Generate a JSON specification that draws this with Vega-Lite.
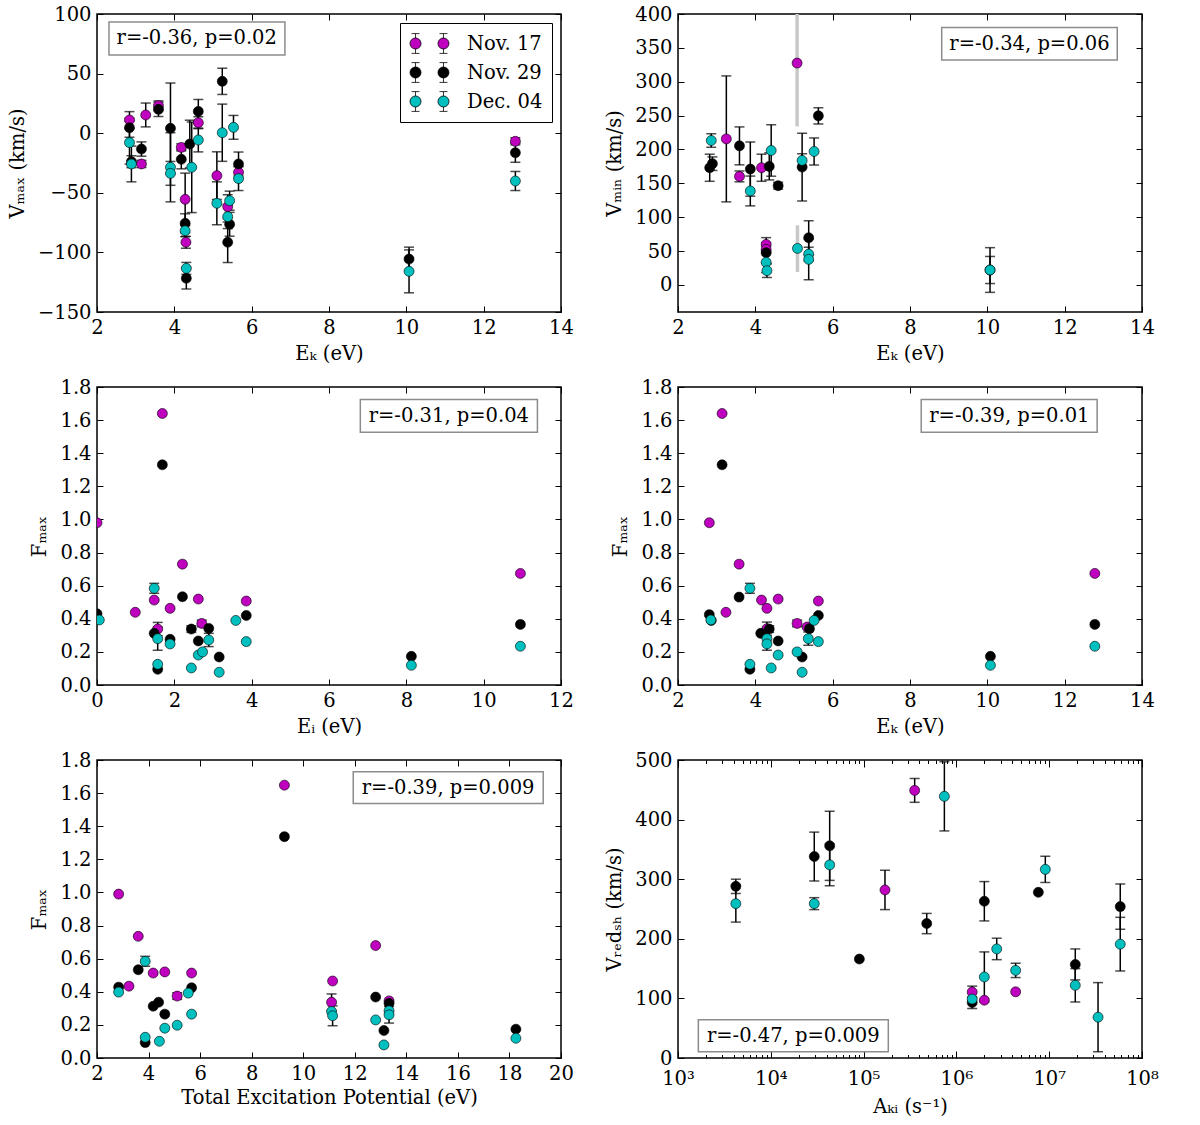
{
  "$schema": "https://vega.github.io/schema/vega-lite/v6.json",
  "background": "white",
  "padding": {"left": 6, "top": 3, "right": 5, "bottom": 5},
  "config": {
    "font": "DejaVu Serif",
    "view": {"stroke": "black", "strokeWidth": 1.5},
    "axis": {
      "grid": false, "domain": false, "tickColor": "black", "tickSize": -6, "tickWidth": 1,
      "labelFont": "DejaVu Serif", "labelFontSize": 19.5, "labelColor": "black", "labelPadding": 12,
      "labelFlush": false, "labelOverlap": false,
      "titleFont": "DejaVu Serif", "titleFontSize": 19.5, "titleFontWeight": "normal", "titleColor": "black", "titlePadding": 8
    },
    "text": {"font": "DejaVu Serif", "fontSize": 19.5}
  },
  "datasets": {
    "p1": [
      {"s": "Nov. 17", "x": 2.84, "y": 11.1, "e": 7},
      {"s": "Nov. 17", "x": 3.15, "y": -25.8, "e": 3},
      {"s": "Nov. 17", "x": 3.26, "y": 15.3, "e": 10},
      {"s": "Nov. 17", "x": 3.59, "y": 23.1, "e": 4},
      {"s": "Nov. 17", "x": 4.18, "y": -11.9, "e": 3},
      {"s": "Nov. 17", "x": 4.28, "y": -55.5, "e": 22},
      {"s": "Nov. 17", "x": 4.30, "y": -91.5, "e": 5},
      {"s": "Nov. 17", "x": 4.62, "y": 8.8, "e": 5},
      {"s": "Nov. 17", "x": 5.10, "y": -35.6, "e": 20},
      {"s": "Nov. 17", "x": 5.38, "y": -61.6, "e": 10},
      {"s": "Nov. 17", "x": 5.66, "y": -32.8, "e": 5},
      {"s": "Nov. 17", "x": 12.82, "y": -6.8, "e": 3},
      {"s": "Nov. 29", "x": 2.84, "y": 4.6, "e": 8},
      {"s": "Nov. 29", "x": 2.89, "y": -23.9, "e": 5},
      {"s": "Nov. 29", "x": 3.15, "y": -13.3, "e": 6},
      {"s": "Nov. 29", "x": 3.59, "y": 20.0, "e": 6},
      {"s": "Nov. 29", "x": 3.90, "y": 4.1, "e": 38},
      {"s": "Nov. 29", "x": 4.18, "y": -21.9, "e": 8},
      {"s": "Nov. 29", "x": 4.40, "y": -9.1, "e": 20},
      {"s": "Nov. 29", "x": 4.28, "y": -75.6, "e": 8},
      {"s": "Nov. 29", "x": 4.31, "y": -121.7, "e": 9},
      {"s": "Nov. 29", "x": 4.62, "y": 18.3, "e": 10},
      {"s": "Nov. 29", "x": 5.24, "y": 43.5, "e": 11},
      {"s": "Nov. 29", "x": 5.43, "y": -76.4, "e": 10},
      {"s": "Nov. 29", "x": 5.38, "y": -91.5, "e": 17},
      {"s": "Nov. 29", "x": 5.66, "y": -25.8, "e": 10},
      {"s": "Nov. 29", "x": 10.07, "y": -105.6, "e": 10},
      {"s": "Nov. 29", "x": 12.82, "y": -16.4, "e": 8},
      {"s": "Dec. 04", "x": 2.84, "y": -7.9, "e": 18},
      {"s": "Dec. 04", "x": 2.89, "y": -25.8, "e": 15},
      {"s": "Dec. 04", "x": 3.90, "y": -28.6, "e": 29},
      {"s": "Dec. 04", "x": 3.90, "y": -33.7, "e": 10},
      {"s": "Dec. 04", "x": 4.45, "y": -28.6, "e": 38},
      {"s": "Dec. 04", "x": 4.28, "y": -81.8, "e": 5},
      {"s": "Dec. 04", "x": 4.31, "y": -113.4, "e": 5},
      {"s": "Dec. 04", "x": 4.62, "y": -5.7, "e": 10},
      {"s": "Dec. 04", "x": 5.10, "y": -58.8, "e": 18},
      {"s": "Dec. 04", "x": 5.24, "y": 0.4, "e": 24},
      {"s": "Dec. 04", "x": 5.53, "y": 4.9, "e": 10},
      {"s": "Dec. 04", "x": 5.38, "y": -70.0, "e": 10},
      {"s": "Dec. 04", "x": 5.43, "y": -56.6, "e": 8},
      {"s": "Dec. 04", "x": 5.66, "y": -38.1, "e": 10},
      {"s": "Dec. 04", "x": 10.07, "y": -115.9, "e": 18},
      {"s": "Dec. 04", "x": 12.82, "y": -40.1, "e": 8}
    ],
    "p2": [
      {"s": "Nov. 17", "x": 3.25, "y": 215.6, "e": 93},
      {"s": "Nov. 17", "x": 3.59, "y": 160.2, "e": 8},
      {"s": "Nov. 17", "x": 4.16, "y": 173, "e": 20},
      {"s": "Nov. 17", "x": 4.28, "y": 59.8, "e": 10},
      {"s": "Nov. 17", "x": 4.28, "y": 52.4, "e": 5},
      {"s": "Nov. 17", "x": 5.08, "y": 327.5, "glo": 234, "ghi": 421},
      {"s": "Nov. 29", "x": 2.82, "y": 173, "e": 20},
      {"s": "Nov. 29", "x": 2.89, "y": 179, "e": 10},
      {"s": "Nov. 29", "x": 3.59, "y": 205.3, "e": 28},
      {"s": "Nov. 29", "x": 3.87, "y": 171, "e": 40},
      {"s": "Nov. 29", "x": 4.36, "y": 175, "e": 20},
      {"s": "Nov. 29", "x": 4.59, "y": 146.5, "e": 5},
      {"s": "Nov. 29", "x": 4.28, "y": 47.5, "e": 15},
      {"s": "Nov. 29", "x": 5.21, "y": 174, "e": 50},
      {"s": "Nov. 29", "x": 5.38, "y": 69.6, "e": 25},
      {"s": "Nov. 29", "x": 5.63, "y": 249.6, "e": 12},
      {"s": "Nov. 29", "x": 10.07, "y": 22, "e": 20},
      {"s": "Dec. 04", "x": 2.86, "y": 213.2, "e": 10},
      {"s": "Dec. 04", "x": 3.87, "y": 138.7, "e": 22},
      {"s": "Dec. 04", "x": 4.41, "y": 198.5, "e": 38},
      {"s": "Dec. 04", "x": 4.28, "y": 33.3, "e": 15},
      {"s": "Dec. 04", "x": 4.30, "y": 21, "e": 10},
      {"s": "Dec. 04", "x": 5.09, "y": 53.9, "glo": 19, "ghi": 88},
      {"s": "Dec. 04", "x": 5.21, "y": 183.8, "e": 10},
      {"s": "Dec. 04", "x": 5.52, "y": 197, "e": 20},
      {"s": "Dec. 04", "x": 5.38, "y": 45.5, "e": 10},
      {"s": "Dec. 04", "x": 5.38, "y": 37.7, "e": 30},
      {"s": "Dec. 04", "x": 10.07, "y": 22, "e": 33}
    ],
    "p3": [
      {"s": "Nov. 17", "x": 1.69, "y": 1.64},
      {"s": "Nov. 17", "x": 0.0, "y": 0.98},
      {"s": "Nov. 17", "x": 2.21, "y": 0.73},
      {"s": "Nov. 17", "x": 10.95, "y": 0.674},
      {"s": "Nov. 17", "x": 1.48, "y": 0.513},
      {"s": "Nov. 17", "x": 2.62, "y": 0.519},
      {"s": "Nov. 17", "x": 3.86, "y": 0.507},
      {"s": "Nov. 17", "x": 0.99, "y": 0.439},
      {"s": "Nov. 17", "x": 1.89, "y": 0.463},
      {"s": "Nov. 17", "x": 1.57, "y": 0.338, "e": 0.04},
      {"s": "Nov. 17", "x": 2.71, "y": 0.372, "e": 0.02},
      {"s": "Nov. 29", "x": 1.69, "y": 1.33},
      {"s": "Nov. 29", "x": 2.21, "y": 0.533},
      {"s": "Nov. 29", "x": 0.0, "y": 0.43},
      {"s": "Nov. 29", "x": 3.86, "y": 0.42},
      {"s": "Nov. 29", "x": 10.95, "y": 0.366},
      {"s": "Nov. 29", "x": 8.13, "y": 0.173},
      {"s": "Nov. 29", "x": 1.48, "y": 0.312},
      {"s": "Nov. 29", "x": 1.89, "y": 0.276},
      {"s": "Nov. 29", "x": 1.57, "y": 0.095},
      {"s": "Nov. 29", "x": 2.44, "y": 0.338, "e": 0.02},
      {"s": "Nov. 29", "x": 2.89, "y": 0.342},
      {"s": "Nov. 29", "x": 2.62, "y": 0.266},
      {"s": "Nov. 29", "x": 3.16, "y": 0.169},
      {"s": "Dec. 04", "x": 1.48, "y": 0.584, "e": 0.03},
      {"s": "Dec. 04", "x": 0.06, "y": 0.393},
      {"s": "Dec. 04", "x": 3.59, "y": 0.39},
      {"s": "Dec. 04", "x": 10.95, "y": 0.234},
      {"s": "Dec. 04", "x": 8.13, "y": 0.119},
      {"s": "Dec. 04", "x": 1.57, "y": 0.28, "e": 0.07},
      {"s": "Dec. 04", "x": 1.89, "y": 0.248},
      {"s": "Dec. 04", "x": 1.57, "y": 0.125},
      {"s": "Dec. 04", "x": 2.44, "y": 0.103},
      {"s": "Dec. 04", "x": 2.89, "y": 0.272, "e": 0.04},
      {"s": "Dec. 04", "x": 2.62, "y": 0.181},
      {"s": "Dec. 04", "x": 2.73, "y": 0.2},
      {"s": "Dec. 04", "x": 3.16, "y": 0.077},
      {"s": "Dec. 04", "x": 3.86, "y": 0.262}
    ],
    "p4": [
      {"s": "Nov. 17", "x": 3.14, "y": 1.64},
      {"s": "Nov. 17", "x": 2.81, "y": 0.98},
      {"s": "Nov. 17", "x": 3.58, "y": 0.73},
      {"s": "Nov. 17", "x": 12.78, "y": 0.674},
      {"s": "Nov. 17", "x": 4.16, "y": 0.513},
      {"s": "Nov. 17", "x": 4.59, "y": 0.519},
      {"s": "Nov. 17", "x": 5.63, "y": 0.507},
      {"s": "Nov. 17", "x": 3.24, "y": 0.439},
      {"s": "Nov. 17", "x": 4.30, "y": 0.463},
      {"s": "Nov. 17", "x": 5.08, "y": 0.372, "e": 0.02},
      {"s": "Nov. 17", "x": 5.34, "y": 0.35},
      {"s": "Nov. 17", "x": 4.30, "y": 0.34, "e": 0.04},
      {"s": "Nov. 29", "x": 3.14, "y": 1.33},
      {"s": "Nov. 29", "x": 12.78, "y": 0.366},
      {"s": "Nov. 29", "x": 10.08, "y": 0.173},
      {"s": "Nov. 29", "x": 3.58, "y": 0.531},
      {"s": "Nov. 29", "x": 2.81, "y": 0.425},
      {"s": "Nov. 29", "x": 2.86, "y": 0.39},
      {"s": "Nov. 29", "x": 5.63, "y": 0.42},
      {"s": "Nov. 29", "x": 5.40, "y": 0.34},
      {"s": "Nov. 29", "x": 4.14, "y": 0.312},
      {"s": "Nov. 29", "x": 4.36, "y": 0.338, "e": 0.02},
      {"s": "Nov. 29", "x": 4.59, "y": 0.266},
      {"s": "Nov. 29", "x": 5.21, "y": 0.169},
      {"s": "Nov. 29", "x": 3.86, "y": 0.095},
      {"s": "Dec. 04", "x": 12.78, "y": 0.234},
      {"s": "Dec. 04", "x": 10.08, "y": 0.119},
      {"s": "Dec. 04", "x": 3.86, "y": 0.584, "e": 0.03},
      {"s": "Dec. 04", "x": 2.85, "y": 0.393},
      {"s": "Dec. 04", "x": 5.52, "y": 0.39},
      {"s": "Dec. 04", "x": 4.30, "y": 0.28, "e": 0.07},
      {"s": "Dec. 04", "x": 4.30, "y": 0.248},
      {"s": "Dec. 04", "x": 5.37, "y": 0.28, "e": 0.04},
      {"s": "Dec. 04", "x": 5.63, "y": 0.262},
      {"s": "Dec. 04", "x": 4.59, "y": 0.181},
      {"s": "Dec. 04", "x": 5.08, "y": 0.2},
      {"s": "Dec. 04", "x": 5.21, "y": 0.077},
      {"s": "Dec. 04", "x": 3.86, "y": 0.125},
      {"s": "Dec. 04", "x": 4.41, "y": 0.103}
    ],
    "p5": [
      {"s": "Nov. 17", "x": 9.27, "y": 1.648},
      {"s": "Nov. 17", "x": 2.84, "y": 0.99},
      {"s": "Nov. 17", "x": 3.60, "y": 0.735},
      {"s": "Nov. 17", "x": 12.81, "y": 0.679},
      {"s": "Nov. 17", "x": 4.18, "y": 0.513},
      {"s": "Nov. 17", "x": 4.63, "y": 0.52},
      {"s": "Nov. 17", "x": 5.67, "y": 0.513},
      {"s": "Nov. 17", "x": 11.14, "y": 0.465},
      {"s": "Nov. 17", "x": 3.24, "y": 0.434},
      {"s": "Nov. 17", "x": 5.11, "y": 0.374, "e": 0.02},
      {"s": "Nov. 17", "x": 11.10, "y": 0.337, "e": 0.05},
      {"s": "Nov. 17", "x": 13.33, "y": 0.345},
      {"s": "Nov. 29", "x": 9.27, "y": 1.337},
      {"s": "Nov. 29", "x": 3.60, "y": 0.533},
      {"s": "Nov. 29", "x": 2.84, "y": 0.428},
      {"s": "Nov. 29", "x": 5.67, "y": 0.424},
      {"s": "Nov. 29", "x": 12.81, "y": 0.368},
      {"s": "Nov. 29", "x": 13.33, "y": 0.33},
      {"s": "Nov. 29", "x": 4.39, "y": 0.337},
      {"s": "Nov. 29", "x": 4.18, "y": 0.313},
      {"s": "Nov. 29", "x": 4.63, "y": 0.265},
      {"s": "Nov. 29", "x": 13.13, "y": 0.166},
      {"s": "Nov. 29", "x": 3.87, "y": 0.093},
      {"s": "Nov. 29", "x": 18.25, "y": 0.174},
      {"s": "Dec. 04", "x": 3.87, "y": 0.584, "e": 0.03},
      {"s": "Dec. 04", "x": 2.84, "y": 0.398},
      {"s": "Dec. 04", "x": 5.54, "y": 0.392},
      {"s": "Dec. 04", "x": 5.67, "y": 0.265},
      {"s": "Dec. 04", "x": 11.10, "y": 0.281},
      {"s": "Dec. 04", "x": 11.14, "y": 0.255, "e": 0.06},
      {"s": "Dec. 04", "x": 12.81, "y": 0.23},
      {"s": "Dec. 04", "x": 13.33, "y": 0.285},
      {"s": "Dec. 04", "x": 13.33, "y": 0.261, "e": 0.05},
      {"s": "Dec. 04", "x": 13.13, "y": 0.079},
      {"s": "Dec. 04", "x": 4.63, "y": 0.18},
      {"s": "Dec. 04", "x": 5.11, "y": 0.198},
      {"s": "Dec. 04", "x": 3.87, "y": 0.125},
      {"s": "Dec. 04", "x": 4.42, "y": 0.101},
      {"s": "Dec. 04", "x": 18.25, "y": 0.119}
    ],
    "p6": [
      {"s": "Nov. 17", "x": 170000, "y": 282, "e": 33},
      {"s": "Nov. 17", "x": 355000, "y": 449, "e": 20},
      {"s": "Nov. 17", "x": 1480000, "y": 110.6, "e": 10},
      {"s": "Nov. 17", "x": 2000000, "y": 97},
      {"s": "Nov. 17", "x": 4350000, "y": 111},
      {"s": "Nov. 29", "x": 4200, "y": 288, "e": 12},
      {"s": "Nov. 29", "x": 29400, "y": 338, "e": 41},
      {"s": "Nov. 29", "x": 43100, "y": 356, "e": 58},
      {"s": "Nov. 29", "x": 90000, "y": 166},
      {"s": "Nov. 29", "x": 479000, "y": 225.6, "e": 17},
      {"s": "Nov. 29", "x": 1480000, "y": 93, "e": 10},
      {"s": "Nov. 29", "x": 2000000, "y": 263, "e": 33},
      {"s": "Nov. 29", "x": 7640000, "y": 278},
      {"s": "Nov. 29", "x": 19100000, "y": 157, "e": 26},
      {"s": "Nov. 29", "x": 58300000, "y": 254, "e": 38},
      {"s": "Dec. 04", "x": 4200, "y": 259, "e": 31},
      {"s": "Dec. 04", "x": 29400, "y": 259, "e": 10},
      {"s": "Dec. 04", "x": 43100, "y": 324, "e": 35},
      {"s": "Dec. 04", "x": 742000, "y": 439, "e": 58},
      {"s": "Dec. 04", "x": 1480000, "y": 98.8},
      {"s": "Dec. 04", "x": 2000000, "y": 136, "e": 42},
      {"s": "Dec. 04", "x": 2720000, "y": 183, "e": 18},
      {"s": "Dec. 04", "x": 4350000, "y": 147, "e": 12},
      {"s": "Dec. 04", "x": 9080000, "y": 316.5, "e": 22},
      {"s": "Dec. 04", "x": 19100000, "y": 122, "e": 28},
      {"s": "Dec. 04", "x": 33600000, "y": 68.5, "e": 58},
      {"s": "Dec. 04", "x": 58300000, "y": 191, "e": 45}
    ]
  },
  "columns": 2,
  "bounds": "flush",
  "spacing": {"row": 75, "column": 117},
  "resolve": {"scale": {"color": "independent"}, "legend": {"color": "independent"}},
  "concat": [
    {
      "width": 464, "height": 298,
      "resolve": {"axis": {"x": "independent", "y": "independent"}},
      "layer": [
        {
          "data": {"values": [{"x": 2.31, "x2": 6.86, "y": 93.3, "y2": 65.6}]},
          "mark": {"type": "rect", "fill": "white", "stroke": "#8c8c8c", "strokeWidth": 1.5},
          "encoding": {
            "x": {"field": "x", "type": "quantitative", "scale": {"domain": [2, 14], "nice": false, "zero": false}, "axis": {"orient": "top", "values": [2, 4, 6, 8, 10, 12, 14], "labels": false, "title": null}},
            "x2": {"field": "x2"},
            "y": {"field": "y", "type": "quantitative", "scale": {"domain": [-150, 100], "nice": false, "zero": false}, "axis": {"orient": "right", "values": [-150, -100, -50, 0, 50, 100], "labels": false, "title": null}},
            "y2": {"field": "y2"}
          }
        },
        {
          "data": {"values": [{"x": 4.58, "y": 79.5, "t": "r=-0.36, p=0.02"}]},
          "mark": {"type": "text", "align": "center", "baseline": "middle", "color": "black"},
          "encoding": {
            "x": {"field": "x", "type": "quantitative", "scale": {"domain": [2, 14], "nice": false, "zero": false}, "axis": null},
            "y": {"field": "y", "type": "quantitative", "scale": {"domain": [-150, 100], "nice": false, "zero": false}, "axis": null},
            "text": {"field": "t"}
          }
        },
        {
          "data": {"name": "p1"},
          "transform": [{"filter": "isValid(datum.e)"}],
          "mark": {"type": "errorbar", "ticks": true, "size": 10, "thickness": 1.5, "color": "black"},
          "encoding": {
            "x": {"field": "x", "type": "quantitative", "scale": {"domain": [2, 14], "nice": false, "zero": false}, "axis": null},
            "y": {"field": "y", "type": "quantitative", "scale": {"domain": [-150, 100], "nice": false, "zero": false}, "axis": null},
            "yError": {"field": "e"}
          }
        },
        {
          "data": {"name": "p1"},
          "mark": {"type": "circle", "size": 100, "stroke": "black", "strokeWidth": 0.6, "opacity": 1, "clip": true},
          "encoding": {
            "x": {"field": "x", "type": "quantitative", "scale": {"domain": [2, 14], "nice": false, "zero": false}, "axis": {"orient": "bottom", "values": [2, 4, 6, 8, 10, 12, 14], "title": "Eₖ (eV)"}},
            "y": {"field": "y", "type": "quantitative", "scale": {"domain": [-150, 100], "nice": false, "zero": false}, "axis": {"orient": "left", "values": [-150, -100, -50, 0, 50, 100], "title": "Vₘₐₓ (km/s)", "titlePadding": 10}},
            "color": {
              "field": "s", "type": "nominal", "sort": null,
              "scale": {"domain": ["Nov. 17", "Nov. 29", "Dec. 04"], "range": ["#bf00bf", "#000000", "#00bfbf"]},
              "legend": {
                "orient": "top-right", "title": null, "offset": 9, "padding": 9,
                "strokeColor": "black", "fillColor": "white",
                "labelFont": "DejaVu Serif", "labelFontSize": 19.5, "labelColor": "black",
                "symbolType": "M -1.77 0 A 0.5 0.5 0 1 0 -0.77 0 A 0.5 0.5 0 1 0 -1.77 0 Z M 0.77 0 A 0.5 0.5 0 1 0 1.77 0 A 0.5 0.5 0 1 0 0.77 0 Z M -1.27 -0.9 L -1.27 -0.5 M -1.27 0.5 L -1.27 0.9 M -1.63 -0.9 L -0.91 -0.9 M -1.63 0.9 L -0.91 0.9 M 1.27 -0.9 L 1.27 -0.5 M 1.27 0.5 L 1.27 0.9 M 0.91 -0.9 L 1.63 -0.9 M 0.91 0.9 L 1.63 0.9",
                "symbolSize": 484, "symbolStrokeColor": "black", "symbolStrokeWidth": 0.8, "symbolOpacity": 1,
                "symbolOffset": 9, "labelOffset": 26, "rowPadding": 6
              }
            }
          }
        }
      ]
    },
    {
      "width": 464, "height": 298,
      "resolve": {"axis": {"x": "independent", "y": "independent"}},
      "layer": [
        {
          "data": {"values": [{"x": 8.82, "x2": 13.36, "y": 379.9, "y2": 331.9}]},
          "mark": {"type": "rect", "fill": "white", "stroke": "#8c8c8c", "strokeWidth": 1.5},
          "encoding": {
            "x": {"field": "x", "type": "quantitative", "scale": {"domain": [2, 14], "nice": false, "zero": false}, "axis": {"orient": "top", "values": [2, 4, 6, 8, 10, 12, 14], "labels": false, "title": null}},
            "x2": {"field": "x2"},
            "y": {"field": "y", "type": "quantitative", "scale": {"domain": [-40, 400], "nice": false, "zero": false}, "axis": {"orient": "right", "values": [0, 50, 100, 150, 200, 250, 300, 350, 400], "labels": false, "title": null}},
            "y2": {"field": "y2"}
          }
        },
        {
          "data": {"values": [{"x": 11.09, "y": 356, "t": "r=-0.34, p=0.06"}]},
          "mark": {"type": "text", "align": "center", "baseline": "middle", "color": "black"},
          "encoding": {
            "x": {"field": "x", "type": "quantitative", "scale": {"domain": [2, 14], "nice": false, "zero": false}, "axis": null},
            "y": {"field": "y", "type": "quantitative", "scale": {"domain": [-40, 400], "nice": false, "zero": false}, "axis": null},
            "text": {"field": "t"}
          }
        },
        {
          "data": {"name": "p2"},
          "transform": [{"filter": "isValid(datum.glo)"}],
          "mark": {"type": "rule", "color": "#c8c8c8", "strokeWidth": 3.5, "clip": true},
          "encoding": {
            "x": {"field": "x", "type": "quantitative", "scale": {"domain": [2, 14], "nice": false, "zero": false}, "axis": null},
            "y": {"field": "glo", "type": "quantitative", "scale": {"domain": [-40, 400], "nice": false, "zero": false}, "axis": null},
            "y2": {"field": "ghi"}
          }
        },
        {
          "data": {"name": "p2"},
          "transform": [{"filter": "isValid(datum.e)"}],
          "mark": {"type": "errorbar", "ticks": true, "size": 10, "thickness": 1.5, "color": "black"},
          "encoding": {
            "x": {"field": "x", "type": "quantitative", "scale": {"domain": [2, 14], "nice": false, "zero": false}, "axis": null},
            "y": {"field": "y", "type": "quantitative", "scale": {"domain": [-40, 400], "nice": false, "zero": false}, "axis": null},
            "yError": {"field": "e"}
          }
        },
        {
          "data": {"name": "p2"},
          "mark": {"type": "circle", "size": 100, "stroke": "black", "strokeWidth": 0.6, "opacity": 1, "clip": true},
          "encoding": {
            "x": {"field": "x", "type": "quantitative", "scale": {"domain": [2, 14], "nice": false, "zero": false}, "axis": {"orient": "bottom", "values": [2, 4, 6, 8, 10, 12, 14], "title": "Eₖ (eV)"}},
            "y": {"field": "y", "type": "quantitative", "scale": {"domain": [-40, 400], "nice": false, "zero": false}, "axis": {"orient": "left", "values": [0, 50, 100, 150, 200, 250, 300, 350, 400], "title": "Vₘᵢₙ (km/s)", "titlePadding": 10}},
            "color": {"field": "s", "type": "nominal", "sort": null, "scale": {"domain": ["Nov. 17", "Nov. 29", "Dec. 04"], "range": ["#bf00bf", "#000000", "#00bfbf"]}, "legend": null}
          }
        }
      ]
    },
    {
      "width": 464, "height": 298,
      "resolve": {"axis": {"x": "independent", "y": "independent"}},
      "layer": [
        {
          "data": {"values": [{"x": 6.81, "x2": 11.39, "y": 1.725, "y2": 1.526}]},
          "mark": {"type": "rect", "fill": "white", "stroke": "#8c8c8c", "strokeWidth": 1.5},
          "encoding": {
            "x": {"field": "x", "type": "quantitative", "scale": {"domain": [0, 12], "nice": false, "zero": false}, "axis": {"orient": "top", "values": [0, 2, 4, 6, 8, 10, 12], "labels": false, "title": null}},
            "x2": {"field": "x2"},
            "y": {"field": "y", "type": "quantitative", "scale": {"domain": [0, 1.8], "nice": false, "zero": false}, "axis": {"orient": "right", "values": [0, 0.2, 0.4, 0.6, 0.8, 1.0, 1.2, 1.4, 1.6, 1.8], "labels": false, "title": null}},
            "y2": {"field": "y2"}
          }
        },
        {
          "data": {"values": [{"x": 9.1, "y": 1.626, "t": "r=-0.31, p=0.04"}]},
          "mark": {"type": "text", "align": "center", "baseline": "middle", "color": "black"},
          "encoding": {
            "x": {"field": "x", "type": "quantitative", "scale": {"domain": [0, 12], "nice": false, "zero": false}, "axis": null},
            "y": {"field": "y", "type": "quantitative", "scale": {"domain": [0, 1.8], "nice": false, "zero": false}, "axis": null},
            "text": {"field": "t"}
          }
        },
        {
          "data": {"name": "p3"},
          "transform": [{"filter": "isValid(datum.e)"}],
          "mark": {"type": "errorbar", "ticks": true, "size": 10, "thickness": 1.5, "color": "black"},
          "encoding": {
            "x": {"field": "x", "type": "quantitative", "scale": {"domain": [0, 12], "nice": false, "zero": false}, "axis": null},
            "y": {"field": "y", "type": "quantitative", "scale": {"domain": [0, 1.8], "nice": false, "zero": false}, "axis": null},
            "yError": {"field": "e"}
          }
        },
        {
          "data": {"name": "p3"},
          "mark": {"type": "circle", "size": 100, "stroke": "black", "strokeWidth": 0.6, "opacity": 1, "clip": true},
          "encoding": {
            "x": {"field": "x", "type": "quantitative", "scale": {"domain": [0, 12], "nice": false, "zero": false}, "axis": {"orient": "bottom", "values": [0, 2, 4, 6, 8, 10, 12], "title": "Eᵢ (eV)"}},
            "y": {"field": "y", "type": "quantitative", "scale": {"domain": [0, 1.8], "nice": false, "zero": false}, "axis": {"orient": "left", "values": [0, 0.2, 0.4, 0.6, 0.8, 1.0, 1.2, 1.4, 1.6, 1.8], "format": ".1f", "title": "Fₘₐₓ", "titlePadding": 10}},
            "color": {"field": "s", "type": "nominal", "sort": null, "scale": {"domain": ["Nov. 17", "Nov. 29", "Dec. 04"], "range": ["#bf00bf", "#000000", "#00bfbf"]}, "legend": null}
          }
        }
      ]
    },
    {
      "width": 464, "height": 298,
      "resolve": {"axis": {"x": "independent", "y": "independent"}},
      "layer": [
        {
          "data": {"values": [{"x": 8.29, "x2": 12.84, "y": 1.725, "y2": 1.526}]},
          "mark": {"type": "rect", "fill": "white", "stroke": "#8c8c8c", "strokeWidth": 1.5},
          "encoding": {
            "x": {"field": "x", "type": "quantitative", "scale": {"domain": [2, 14], "nice": false, "zero": false}, "axis": {"orient": "top", "values": [2, 4, 6, 8, 10, 12, 14], "labels": false, "title": null}},
            "x2": {"field": "x2"},
            "y": {"field": "y", "type": "quantitative", "scale": {"domain": [0, 1.8], "nice": false, "zero": false}, "axis": {"orient": "right", "values": [0, 0.2, 0.4, 0.6, 0.8, 1.0, 1.2, 1.4, 1.6, 1.8], "labels": false, "title": null}},
            "y2": {"field": "y2"}
          }
        },
        {
          "data": {"values": [{"x": 10.57, "y": 1.626, "t": "r=-0.39, p=0.01"}]},
          "mark": {"type": "text", "align": "center", "baseline": "middle", "color": "black"},
          "encoding": {
            "x": {"field": "x", "type": "quantitative", "scale": {"domain": [2, 14], "nice": false, "zero": false}, "axis": null},
            "y": {"field": "y", "type": "quantitative", "scale": {"domain": [0, 1.8], "nice": false, "zero": false}, "axis": null},
            "text": {"field": "t"}
          }
        },
        {
          "data": {"name": "p4"},
          "transform": [{"filter": "isValid(datum.e)"}],
          "mark": {"type": "errorbar", "ticks": true, "size": 10, "thickness": 1.5, "color": "black"},
          "encoding": {
            "x": {"field": "x", "type": "quantitative", "scale": {"domain": [2, 14], "nice": false, "zero": false}, "axis": null},
            "y": {"field": "y", "type": "quantitative", "scale": {"domain": [0, 1.8], "nice": false, "zero": false}, "axis": null},
            "yError": {"field": "e"}
          }
        },
        {
          "data": {"name": "p4"},
          "mark": {"type": "circle", "size": 100, "stroke": "black", "strokeWidth": 0.6, "opacity": 1, "clip": true},
          "encoding": {
            "x": {"field": "x", "type": "quantitative", "scale": {"domain": [2, 14], "nice": false, "zero": false}, "axis": {"orient": "bottom", "values": [2, 4, 6, 8, 10, 12, 14], "title": "Eₖ (eV)"}},
            "y": {"field": "y", "type": "quantitative", "scale": {"domain": [0, 1.8], "nice": false, "zero": false}, "axis": {"orient": "left", "values": [0, 0.2, 0.4, 0.6, 0.8, 1.0, 1.2, 1.4, 1.6, 1.8], "format": ".1f", "title": "Fₘₐₓ", "titlePadding": 10}},
            "color": {"field": "s", "type": "nominal", "sort": null, "scale": {"domain": ["Nov. 17", "Nov. 29", "Dec. 04"], "range": ["#bf00bf", "#000000", "#00bfbf"]}, "legend": null}
          }
        }
      ]
    },
    {
      "width": 464, "height": 298,
      "resolve": {"axis": {"x": "independent", "y": "independent"}},
      "layer": [
        {
          "data": {"values": [{"x": 11.94, "x2": 19.31, "y": 1.729, "y2": 1.538}]},
          "mark": {"type": "rect", "fill": "white", "stroke": "#8c8c8c", "strokeWidth": 1.5},
          "encoding": {
            "x": {"field": "x", "type": "quantitative", "scale": {"domain": [2, 20], "nice": false, "zero": false}, "axis": {"orient": "top", "values": [2, 4, 6, 8, 10, 12, 14, 16, 18, 20], "labels": false, "title": null}},
            "x2": {"field": "x2"},
            "y": {"field": "y", "type": "quantitative", "scale": {"domain": [0, 1.8], "nice": false, "zero": false}, "axis": {"orient": "right", "values": [0, 0.2, 0.4, 0.6, 0.8, 1.0, 1.2, 1.4, 1.6, 1.8], "labels": false, "title": null}},
            "y2": {"field": "y2"}
          }
        },
        {
          "data": {"values": [{"x": 15.62, "y": 1.633, "t": "r=-0.39, p=0.009"}]},
          "mark": {"type": "text", "align": "center", "baseline": "middle", "color": "black"},
          "encoding": {
            "x": {"field": "x", "type": "quantitative", "scale": {"domain": [2, 20], "nice": false, "zero": false}, "axis": null},
            "y": {"field": "y", "type": "quantitative", "scale": {"domain": [0, 1.8], "nice": false, "zero": false}, "axis": null},
            "text": {"field": "t"}
          }
        },
        {
          "data": {"name": "p5"},
          "transform": [{"filter": "isValid(datum.e)"}],
          "mark": {"type": "errorbar", "ticks": true, "size": 10, "thickness": 1.5, "color": "black"},
          "encoding": {
            "x": {"field": "x", "type": "quantitative", "scale": {"domain": [2, 20], "nice": false, "zero": false}, "axis": null},
            "y": {"field": "y", "type": "quantitative", "scale": {"domain": [0, 1.8], "nice": false, "zero": false}, "axis": null},
            "yError": {"field": "e"}
          }
        },
        {
          "data": {"name": "p5"},
          "mark": {"type": "circle", "size": 100, "stroke": "black", "strokeWidth": 0.6, "opacity": 1, "clip": true},
          "encoding": {
            "x": {"field": "x", "type": "quantitative", "scale": {"domain": [2, 20], "nice": false, "zero": false}, "axis": {"orient": "bottom", "values": [2, 4, 6, 8, 10, 12, 14, 16, 18, 20], "title": "Total Excitation Potential (eV)", "titlePadding": 6}},
            "y": {"field": "y", "type": "quantitative", "scale": {"domain": [0, 1.8], "nice": false, "zero": false}, "axis": {"orient": "left", "values": [0, 0.2, 0.4, 0.6, 0.8, 1.0, 1.2, 1.4, 1.6, 1.8], "format": ".1f", "title": "Fₘₐₓ", "titlePadding": 10}},
            "color": {"field": "s", "type": "nominal", "sort": null, "scale": {"domain": ["Nov. 17", "Nov. 29", "Dec. 04"], "range": ["#bf00bf", "#000000", "#00bfbf"]}, "legend": null}
          }
        }
      ]
    },
    {
      "width": 464, "height": 298,
      "resolve": {"axis": {"x": "independent", "y": "independent"}},
      "layer": [
        {
          "data": {"values": [{"x": 1656, "x2": 184600, "y": 64, "y2": 10.6}]},
          "mark": {"type": "rect", "fill": "white", "stroke": "#8c8c8c", "strokeWidth": 1.5},
          "encoding": {
            "x": {"field": "x", "type": "quantitative", "scale": {"type": "log", "domain": [1000, 100000000], "nice": false}, "axis": {"orient": "top", "values": [1000, 2000, 3000, 4000, 5000, 6000, 7000, 8000, 9000, 10000, 20000, 30000, 40000, 50000, 60000, 70000, 80000, 90000, 100000, 200000, 300000, 400000, 500000, 600000, 700000, 800000, 900000, 1000000, 2000000, 3000000, 4000000, 5000000, 6000000, 7000000, 8000000, 9000000, 10000000, 20000000, 30000000, 40000000, 50000000, 60000000, 70000000, 80000000, 90000000, 100000000], "labels": false, "title": null, "tickSize": {"condition": {"test": "indexof([1000,10000,100000,1000000,10000000,100000000], datum.value) >= 0", "value": -7}, "value": -3.5}}},
            "x2": {"field": "x2"},
            "y": {"field": "y", "type": "quantitative", "scale": {"domain": [0, 500], "nice": false, "zero": false}, "axis": {"orient": "right", "values": [0, 100, 200, 300, 400, 500], "labels": false, "title": null}},
            "y2": {"field": "y2"}
          }
        },
        {
          "data": {"values": [{"x": 17480, "y": 37, "t": "r=-0.47, p=0.009"}]},
          "mark": {"type": "text", "align": "center", "baseline": "middle", "color": "black"},
          "encoding": {
            "x": {"field": "x", "type": "quantitative", "scale": {"type": "log", "domain": [1000, 100000000], "nice": false}, "axis": null},
            "y": {"field": "y", "type": "quantitative", "scale": {"domain": [0, 500], "nice": false, "zero": false}, "axis": null},
            "text": {"field": "t"}
          }
        },
        {
          "data": {"name": "p6"},
          "transform": [{"filter": "isValid(datum.e)"}],
          "mark": {"type": "errorbar", "ticks": true, "size": 10, "thickness": 1.5, "color": "black"},
          "encoding": {
            "x": {"field": "x", "type": "quantitative", "scale": {"type": "log", "domain": [1000, 100000000], "nice": false}, "axis": null},
            "y": {"field": "y", "type": "quantitative", "scale": {"domain": [0, 500], "nice": false, "zero": false}, "axis": null},
            "yError": {"field": "e"}
          }
        },
        {
          "data": {"name": "p6"},
          "mark": {"type": "circle", "size": 100, "stroke": "black", "strokeWidth": 0.6, "opacity": 1, "clip": true},
          "encoding": {
            "x": {"field": "x", "type": "quantitative", "scale": {"type": "log", "domain": [1000, 100000000], "nice": false}, "axis": {"orient": "bottom", "values": [1000, 2000, 3000, 4000, 5000, 6000, 7000, 8000, 9000, 10000, 20000, 30000, 40000, 50000, 60000, 70000, 80000, 90000, 100000, 200000, 300000, 400000, 500000, 600000, 700000, 800000, 900000, 1000000, 2000000, 3000000, 4000000, 5000000, 6000000, 7000000, 8000000, 9000000, 10000000, 20000000, 30000000, 40000000, 50000000, 60000000, 70000000, 80000000, 90000000, 100000000], "labelExpr": "datum.value == 1000 ? '10³' : datum.value == 10000 ? '10⁴' : datum.value == 100000 ? '10⁵' : datum.value == 1000000 ? '10⁶' : datum.value == 10000000 ? '10⁷' : datum.value == 100000000 ? '10⁸' : ''", "labelPadding": 18, "tickSize": {"condition": {"test": "indexof([1000,10000,100000,1000000,10000000,100000000], datum.value) >= 0", "value": -7}, "value": -3.5}, "title": "Aₖᵢ (s⁻¹)", "titlePadding": 6}},
            "y": {"field": "y", "type": "quantitative", "scale": {"domain": [0, 500], "nice": false, "zero": false}, "axis": {"orient": "left", "values": [0, 100, 200, 300, 400, 500], "title": "Vᵣₑdₛₕ (km/s)", "titlePadding": 10}},
            "color": {"field": "s", "type": "nominal", "sort": null, "scale": {"domain": ["Nov. 17", "Nov. 29", "Dec. 04"], "range": ["#bf00bf", "#000000", "#00bfbf"]}, "legend": null}
          }
        }
      ]
    }
  ]
}
